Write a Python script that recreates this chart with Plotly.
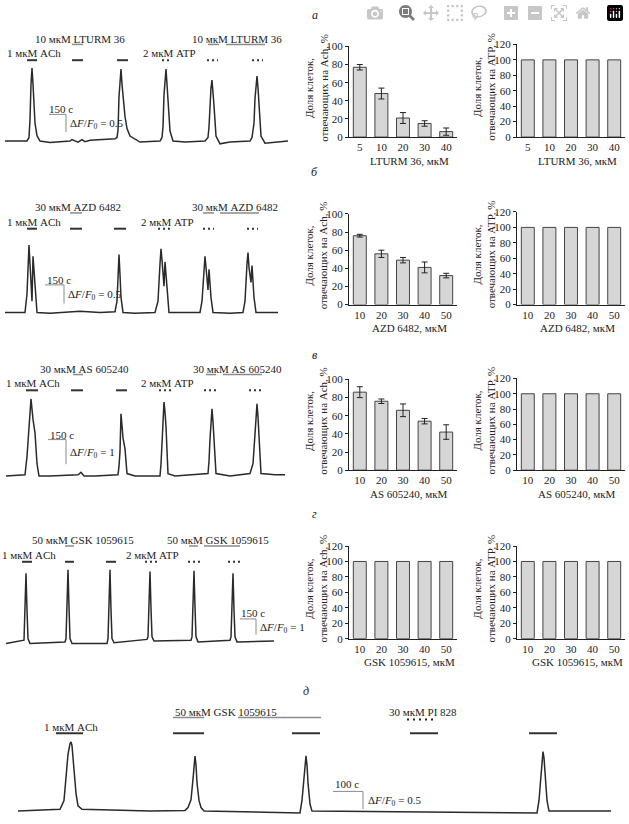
import plotly.graph_objects as go

W, H = 629, 824
FONT = "Liberation Serif"

# ---------------- data ----------------
# calcium traces (time in arbitrary record units, dF/F0)
ta = [5,27,29,30,31,32,33,34,35,37,40,50,70,72,75,78,82,85,90,115,117,118,119,120,121,122,123,125,127,130,140,160,162,163,164,165,166,167,168,170,173,185,205,208,209,210,211,212,213,214,216,220,230,250,252,254,255,256,257,258,259,261,265,275,288]
ya = [0,0,0.1,0.6,1.6,2.06,1.6,1.0,0.5,0.15,0,-0.04,0,0.04,0,-0.03,0.04,-0.02,0.02,0.06,0.1,0.3,1.25,1.8,2.03,1.6,1.25,0.69,0.35,0.14,-0.03,0,0.1,0.4,1.3,1.8,2.03,1.6,1.11,0.28,0,-0.03,0,0.1,0.4,1.1,1.5,1.72,1.4,1.0,0.14,-0.08,-0.03,0,0.1,0.5,1.2,1.6,1.83,1.5,0.97,0.14,-0.06,-0.03,0]
tb = [5,25,27,28,29,30,31,32,33,34,35,37,50,80,100,115,117,118,119,120,121,123,135,155,158,160,161,162,163,164,165,166,167,169,180,200,202,204,205,206,207,208,209,210,211,213,230,243,245,247,248,249,250,251,252,253,254,256,278]
yb = [0,0,0.5,1.3,1.8,1.3,0.7,0.3,1.5,1.1,0.5,0,-0.02,0.03,0,0.02,0.3,1.0,1.55,1.0,0.4,0,-0.02,0,0.3,1.3,1.7,1.4,0.9,0.7,1.35,1.0,0.5,0,0,0,0.3,1.2,1.5,1.2,0.8,0.6,1.15,0.8,0.4,0,-0.02,0,0.3,1.3,1.6,1.2,0.9,0.8,1.25,0.9,0.4,0,0]
tc = [6,25,27,29,31,33,35,37,39,50,78,81,84,95,118,119,120,121,123,125,127,135,160,161,162,163,164,165,166,168,175,208,209,210,211,212,213,214,216,230,250,253,254,255,256,257,258,259,261,275,285]
yc = [0,0.05,0.8,2.2,3.13,2.3,1.75,0.5,0,0,0.05,0.15,0,0,0.05,0.4,1.0,2.53,1.55,1.1,0.1,0,0,0.5,1.5,2.5,3.0,2.6,2.0,0.1,0,0.1,0.6,1.5,2.2,2.73,2.2,1.5,0.1,0,0.1,0.5,1.1,2.0,2.6,2.93,2.4,1.5,0.1,0.05,0.05]
td = [6,24,25,26,27,28,30,65,66,67,68,69,70,72,107,108,109,110,111,112,114,130,147,148,149,150,151,152,154,191,192,193,194,195,196,198,220,230,231,232,233,234,235,237,274]
yd = [0,0.2,2.2,4.2,2.0,0.3,0,0.1,0.3,2.4,4.4,2.2,0.3,0,0,0.3,2.4,4.4,2.0,0.3,0.05,0.15,0.25,0.4,2.3,4.3,2.1,0.4,0.15,0.2,0.4,2.3,4.35,2.2,0.4,0.1,0.15,0.2,0.4,2.2,4.2,2.0,0.4,0.1,0.15]
te = [18,60,64,66,68,70,71,72,74,76,78,82,150,185,188,191,193,194,195,196,197,199,201,204,300,302,304,305,306,307,308,310,312,537,539,541,542,543,544,545,547,549,611]
ye = [0,0.05,0.3,0.9,1.6,1.9,1.95,1.85,1.2,0.5,0.15,0.05,0,0.02,0.1,0.32,0.9,1.3,1.55,1.3,0.8,0.3,0.1,0,-0.05,0.3,1.0,1.4,1.56,1.3,0.8,0.2,0,-0.05,0.3,1.0,1.5,1.68,1.5,1.0,0.3,0,0]

# bar charts
conc_a = ["5", "10", "20", "30", "40"]
conc_bcd = ["10", "20", "30", "40", "50"]
ach_a = [77, 48, 21, 15, 6];   err_a = [3, 6, 6, 3, 4]
ach_b = [76, 56, 49, 41, 32];  err_b = [1.5, 4, 3, 6, 2.5]
ach_c = [86, 76, 66, 54, 42];  err_c = [6, 2.5, 7, 3, 8]
ach_d = [100, 100, 100, 100, 100]
atp_all = [100, 100, 100, 100, 100]
drugs = ["LTURM 36", "AZD 6482", "AS 605240", "GSK 1059615"]

# ---------------- helpers ----------------
def px(x): return x / W
def py(y): return 1 - y / H

fig = go.Figure()
layout = {}
shapes = []
annots = []

def hline(x0, x1, y, color="#333", width=2, dash=None):
    d = dict(type="line", xref="paper", yref="paper", x0=px(x0), x1=px(x1),
             y0=py(y), y1=py(y), line=dict(color=color, width=width))
    if dash: d["line"]["dash"] = dash
    shapes.append(d)

def vline(x, y0, y1, color="#777", width=1):
    shapes.append(dict(type="line", xref="paper", yref="paper", x0=px(x), x1=px(x),
                       y0=py(y0), y1=py(y1), line=dict(color=color, width=width)))

def text(x, y, s, size=11, anchor="left", italic=False, angle=0):
    annots.append(dict(xref="paper", yref="paper", x=px(x), y=py(y), text=s,
                       showarrow=False, xanchor=anchor, yanchor="middle", textangle=angle,
                       font=dict(family=FONT, size=size, color="#222",
                                 style="italic" if italic else "normal")))

def dots(x0, x1, y):
    hline(x0, x1, y, color="#333", width=2, dash="2px,3px")

axn = [0]
def new_axes():
    axn[0] += 1
    n = axn[0]
    return ("x" if n == 1 else f"x{n}"), ("y" if n == 1 else f"y{n}"), \
           ("xaxis" if n == 1 else f"xaxis{n}"), ("yaxis" if n == 1 else f"yaxis{n}")

def trace_panel(t, v, x0, x1, ytop, ybot, base, s):
    xr, yr, xk, yk = new_axes()
    fig.add_trace(go.Scatter(x=t, y=v, mode="lines", xaxis=xr, yaxis=yr,
                             line=dict(color="#2a2a2a", width=1.5), showlegend=False))
    layout[xk] = dict(domain=[px(x0), px(x1)], range=[x0, x1], visible=False, anchor=yr)
    layout[yk] = dict(domain=[py(ybot), py(ytop)], range=[-(ybot - base) / s, (base - ytop) / s],
                      visible=False, anchor=xr)

def bar_panel(cats, vals, errs, x0, x1, ytop, ybot, ymax, xtitle, ytitle):
    xr, yr, xk, yk = new_axes()
    fig.add_trace(go.Bar(x=cats, y=vals, xaxis=xr, yaxis=yr, showlegend=False,
                         marker=dict(color="#d6d6d6", line=dict(color="#444", width=1)),
                         error_y=dict(type="data", array=errs, visible=errs is not None,
                                      color="#222", thickness=1, width=3)))
    tickfont = dict(family=FONT, size=11, color="#222")
    layout[xk] = dict(domain=[px(x0), px(x1)], anchor=yr, type="category",
                      showline=True, linecolor="#222", linewidth=1, ticks="",
                      tickfont=tickfont, showgrid=False)
    layout[yk] = dict(domain=[py(ybot), py(ytop)], anchor=xr, range=[0, ymax],
                      dtick=20, showline=True, linecolor="#222", linewidth=1,
                      ticks="outside", ticklen=3, tickcolor="#222",
                      tickfont=tickfont, showgrid=False, zeroline=False)
    text((x0 + x1) / 2 + 6, ybot + 24, xtitle, anchor="center")
    text(x0 - 33, (ytop + ybot) / 2 - 4, ytitle, angle=-90, anchor="center")

# ---------------- traces ----------------
trace_panel(ta, ya, 0, 300, 30, 150, 137, 36)
trace_panel(tb, yb, 0, 300, 195, 322, 311, 38)
trace_panel(tc, yc, 0, 300, 360, 490, 477, 25)
trace_panel(td, yd, 0, 300, 530, 660, 647, 17)
trace_panel(te, ye, 0, 629, 700, 824, 817, 36)

# ---------------- bars ----------------
rows = [
    (conc_a, ach_a, err_a, 41, 133, 39, drugs[0]),
    (conc_bcd, ach_b, err_b, 211, 303, 209, drugs[1]),
    (conc_bcd, ach_c, err_c, 379, 471, 378, drugs[2]),
]
for cats, vals, errs, lt, bot, rt, drug in rows:
    bar_panel(cats, vals, errs, 349, 457, lt, bot, 100, f"{drug}, мкМ",
              "Доля клеток,<br>отвечающих на Ach, %")
    bar_panel(cats, atp_all, None, 517, 625, rt, bot, 120, f"{drug}, мкМ",
              "Доля клеток,<br>отвечающих на ATP, %")
bar_panel(conc_bcd, ach_d, None, 349, 457, 548, 642, 120, f"{drugs[3]}, мкМ",
          "Доля клеток,<br>отвечающих на Ach, %")
bar_panel(conc_bcd, atp_all, None, 517, 625, 548, 642, 120, f"{drugs[3]}, мкМ",
          "Доля клеток,<br>отвечающих на ATP, %")

# ---------------- panel letters ----------------
for s, y in [("а", 9), ("б", 168), ("в", 354), ("г", 515)]:
    text(315, y, s, size=12, italic=True, anchor="center")
text(306, 695, "д", size=12, italic=True, anchor="center")

# ---------------- stimulus annotations ----------------
GRAY = "#8a8a8a"
def stim_row(y_top, lab, drug_txt, ach_x, inh, atp_lab_x, atp_dots, drug2_x, gray_segs, sc):
    text(lab[0], y_top, drug_txt, anchor="left")
    text(drug2_x, y_top, drug_txt, anchor="left")
    text(ach_x, y_top + 15, "1 мкМ ACh", anchor="left")
    text(atp_lab_x, y_top + 15, "2 мкМ ATP", anchor="left")
    for a, b in inh:
        hline(a, b, y_top + 22, color="#333", width=2)
    for a, b in atp_dots:
        dots(a, b, y_top + 22)
    for a, b in gray_segs:
        hline(a, b, y_top + 6, color=GRAY, width=1.5)
    tx, ty, hx0, hx1, hy, vy1, dlab = sc
    text(tx, ty, "150 с", anchor="left")
    hline(hx0, hx1, hy, color=GRAY, width=1)
    vline(hx1, hy, vy1, color=GRAY, width=1)
    text(hx1 + 2, (hy + vy1) / 2 + 1, dlab, anchor="left")

stim_row(33, (33,), "10 мкМ LTURM 36", 5, [(27, 37), (72, 83), (117, 128)], 141,
         [(162, 172), (207, 218), (252, 263)], 190, [(72, 83), (208, 219), (226, 265)],
         (47, 105, 49, 66, 110, 128, "Δ<i>F</i>/<i>F</i><sub>0</sub> = 0.5"))
stim_row(204, (33,), "30 мкМ AZD 6482", 5, [(27, 37), (70, 82), (114, 126)], 139,
         [(158, 170), (203, 214), (247, 258)], 190, [(70, 82), (203, 214), (220, 259)],
         (45, 278, 45, 64, 283, 302, "Δ<i>F</i>/<i>F</i><sub>0</sub> = 0.5"))
stim_row(368, (38,), "30 мкМ AS 605240", 4, [(26, 38), (71, 83), (116, 127)], 139,
         [(159, 173), (204, 218), (249, 262)], 191, [(73, 83), (206, 216), (223, 262)],
         (48, 435, 48, 66, 440, 465, "Δ<i>F</i>/<i>F</i><sub>0</sub> = 1"))
stim_row(542, (30,), "50 мкМ GSK 1059615", 0, [(22, 32), (65, 74), (106, 116)], 124,
         [(145, 158), (188, 200), (228, 241)], 165, [(65, 74), (189, 198), (204, 240)],
         (239, 616, 240, 256, 622, 638, "Δ<i>F</i>/<i>F</i><sub>0</sub> = 1"))

# row д
text(42, 732, "1 мкМ ACh")
for a, b in [(56, 83), (173, 204), (292, 320), (410, 438), (529, 557)]:
    hline(a, b, 738, color="#333", width=2)
text(173, 716, "50 мкМ GSK 1059615")
hline(173, 204, 722, color=GRAY, width=1.5)
hline(238, 321, 722, color=GRAY, width=1.5)
text(387, 716, "30 мкМ PI 828")
hline(407, 435, 724, color="#222", width=2, dash="2px,4px")
text(333, 790, "100 с")
hline(333, 363, 797, color=GRAY, width=1)
vline(363, 797, 815, color=GRAY, width=1)
text(366, 807, "Δ<i>F</i>/<i>F</i><sub>0</sub> = 0.5")

fig.update_layout(width=W, height=H, margin=dict(l=0, r=0, t=0, b=0),
                  paper_bgcolor="white", plot_bgcolor="white", bargap=0.4,
                  shapes=shapes, annotations=annots, **layout)
fig.write_html("out.html", post_script="document.body.style.margin='0';document.body.style.overflow='hidden';")
